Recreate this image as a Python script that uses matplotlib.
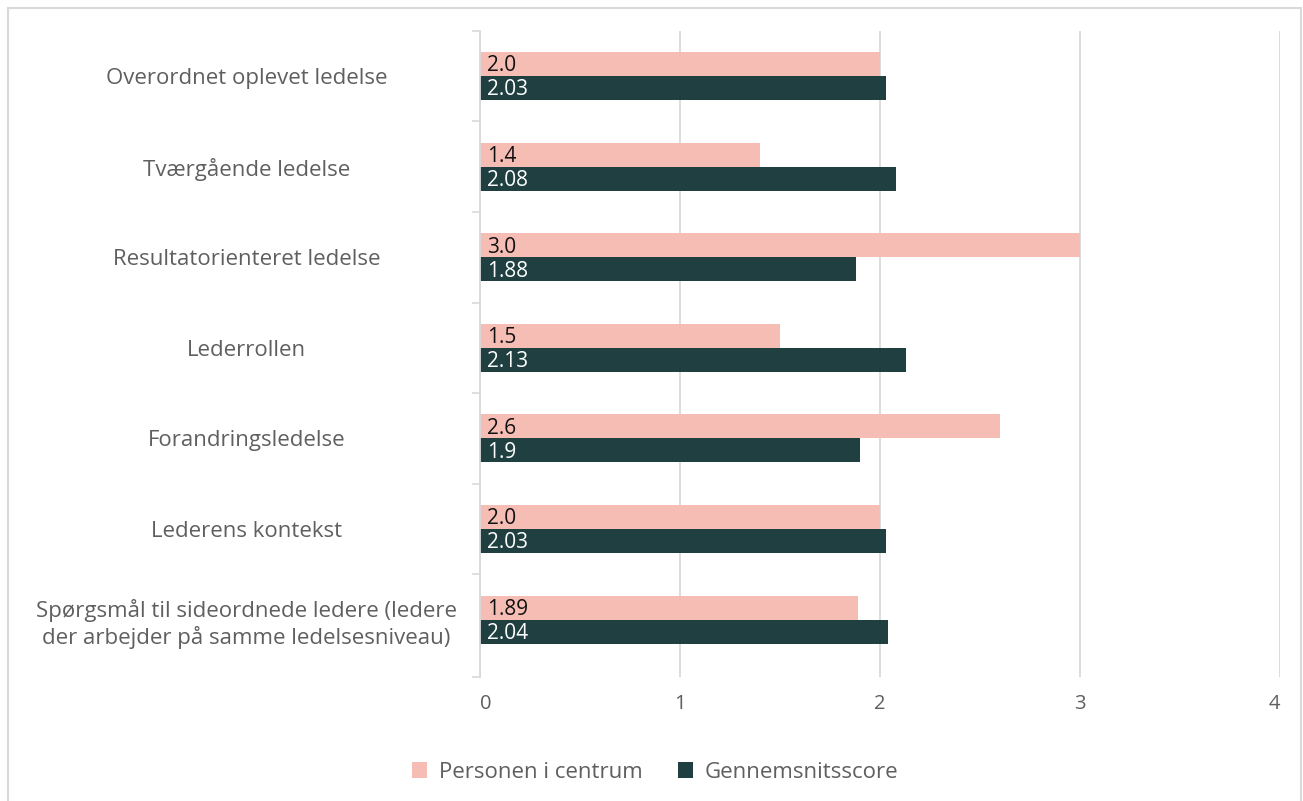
import matplotlib
matplotlib.use("Agg")
import matplotlib.pyplot as plt
from matplotlib.patches import Rectangle
import numpy as np

plt.rcParams['font.family'] = ['Open Sans', 'DejaVu Sans']

categories = [
    "Overordnet oplevet ledelse",
    "Tværgående ledelse",
    "Resultatorienteret ledelse",
    "Lederrollen",
    "Forandringsledelse",
    "Lederens kontekst",
    "Spørgsmål til sideordnede ledere (ledere\nder arbejder på samme ledelsesniveau)",
]
person_labels = ["2.0", "1.4", "3.0", "1.5", "2.6", "2.0", "1.89"]
average_labels = ["2.03", "2.08", "1.88", "2.13", "1.9", "2.03", "2.04"]
person_values = [float(s) for s in person_labels]
average_values = [float(s) for s in average_labels]
series_names = ["Personen i centrum", "Gennemsnitsscore"]
x_ticks = [0, 1, 2, 3, 4]

PINK = "#F6BDB5"
DARK = "#1F3F40"
GRID = "#D9D9D9"
TEXT = "#5F5F5F"

W, H = 1303, 801
fig = plt.figure(figsize=(W / 100, H / 100), dpi=100)
ax_top, ax_bottom = 30.7, 677.0
ax = fig.add_axes([480 / W, 1 - ax_bottom / H, 800 / W, (ax_bottom - ax_top) / H])

n = len(categories)
y = np.arange(n)
bh = 0.265
ax.barh(y - bh / 2, person_values, height=bh, color=PINK, label=series_names[0], zorder=3)
ax.barh(y + bh / 2, average_values, height=bh, color=DARK, label=series_names[1], zorder=3)

for i in range(n):
    ax.text(0.035, y[i] - bh / 2 + 0.02, person_labels[i], va="center", ha="left",
            fontsize=15, color="#111111", zorder=4)
    ax.text(0.035, y[i] + bh / 2 + 0.02, average_labels[i], va="center", ha="left",
            fontsize=15, color="white", zorder=4)

# each category band is ~90.6 px tall; the axis runs a little past the last band
band_px = 90.6
y_max = -0.5 + (ax_bottom - ax_top) / band_px
ax.set_xlim(0, 4)
ax.set_ylim(y_max, -0.5)

ax.set_xticks(x_ticks)
ax.set_xticklabels([str(t) for t in x_ticks])
xl = ax.get_xticklabels()
xl[0].set_ha("left")
xl[-1].set_ha("right")
ax.tick_params(axis="x", length=0, pad=12, labelsize=14.5, labelcolor=TEXT)

ax.set_yticks(y)
ax.set_yticklabels(categories, ha="center", multialignment="center")
ax.tick_params(axis="y", which="major", length=0, pad=168, labelsize=16, labelcolor=TEXT)
ax.set_yticks(list(np.arange(n) - 0.5) + [y_max], minor=True)
ax.tick_params(axis="y", which="minor", length=6, width=1.2, color=GRID)

ax.grid(axis="x", color=GRID, linewidth=1.3, zorder=0)
for s in ["top", "right", "bottom"]:
    ax.spines[s].set_visible(False)
ax.spines["left"].set_color(GRID)
ax.spines["left"].set_linewidth(1.3)
ax.spines["left"].set_zorder(5)

fig.legend(loc="center", bbox_to_anchor=(655 / W, 1 - 772 / H), ncol=2, frameon=False,
           fontsize=16, labelcolor=TEXT, handlelength=0.7, handleheight=0.7,
           columnspacing=1.6, handletextpad=0.5)

fig.patches.append(Rectangle((7.5 / W, -0.05), (1301 - 7.5) / W, 1.05 - 8.5 / H,
                             transform=fig.transFigure, fill=False,
                             edgecolor=GRID, linewidth=1.5))

fig.savefig("out.png", dpi=100)
